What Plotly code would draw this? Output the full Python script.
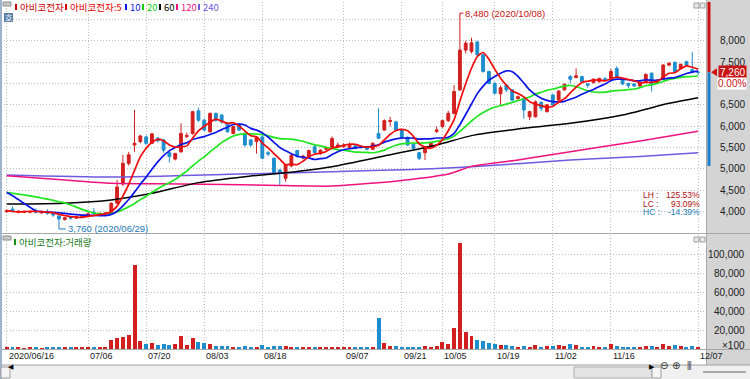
import pandas as pd
import plotly.graph_objects as go

# ---------------- data ----------------
holidays = ['2020-08-17', '2020-09-30', '2020-10-01', '2020-10-02', '2020-10-09']
dates = [d.strftime('%Y/%m/%d') for d in pd.bdate_range('2020-06-16', '2020-12-07')
         if d.strftime('%Y-%m-%d') not in holidays]

opens = [4000, 4060, 3990, 3990, 3985, 4020, 3975, 4000, 3960, 3900,
         3820, 3880, 3850, 3880, 3910, 3990, 3940, 3950, 3975, 4200,
         4650, 5130, 5560, 5640, 5750, 5600, 5720, 5680, 5380, 5230,
         5400, 5760, 5830, 6360, 6140, 5870, 6300, 6260, 6070, 5830,
         6040, 5830, 5680, 5640, 5750, 5380, 5250, 4975, 4780, 5070,
         5430, 5260, 5290, 5520, 5360, 5460, 5480, 5520, 5520, 5500,
         5540, 5530, 5520, 5460, 5830, 5910, 6110, 6100, 5910, 5740,
         5580, 5380, 5380, 5520, 5880, 5990, 6130, 6300, 6850, 7780,
         7750, 7970, 7670, 7280, 7000, 6760, 6960, 6850, 6650, 6650,
         6220, 6220, 6560, 6340, 6730, 6610, 6850, 7160, 7140, 7160,
         6990, 7020, 7040, 7110, 7120, 7350, 7100, 7000, 6990, 6940,
         7030, 7240, 7020, 7100, 7430, 7490, 7350, 7510, 7320, 7260]
highs = [4040, 4120, 4030, 4030, 4020, 4080, 4010, 4060, 3980, 3920,
         3880, 3900, 3900, 3930, 3980, 4080, 3980, 3990, 4220, 4740,
         5330, 5400, 6380, 5800, 5780, 5850, 5750, 5700, 5400, 5380,
         6070, 5850, 6360, 6430, 6180, 6320, 6320, 6280, 6090, 6010,
         6060, 5870, 5700, 5760, 5780, 5420, 5270, 5000, 5120, 5350,
         5450, 5330, 5450, 5560, 5460, 5530, 5760, 5620, 5600, 5620,
         5560, 5560, 5540, 5620, 6420, 6160, 6220, 6130, 5930, 5760,
         5600, 5400, 5540, 5640, 5990, 6150, 6360, 6960, 8480, 8000,
         8070, 8000, 7700, 7300, 7040, 6950, 6980, 6870, 6720, 6680,
         6360, 6600, 6580, 6520, 6760, 6850, 7000, 7200, 7350, 7180,
         7000, 7120, 7130, 7150, 7340, 7400, 7140, 7020, 7010, 7040,
         7240, 7260, 7100, 7450, 7500, 7520, 7460, 7530, 7740, 7300]
lows = [3980, 3990, 3960, 3970, 3960, 3960, 3950, 3930, 3880, 3760,
        3790, 3810, 3830, 3860, 3900, 3930, 3920, 3920, 3950, 4180,
        4600, 5080, 5400, 5600, 5560, 5580, 5620, 5380, 5150, 5200,
        5380, 5720, 5800, 6100, 5880, 5850, 6100, 6050, 5850, 5810,
        5880, 5520, 5520, 5360, 5230, 5300, 4870, 4624, 4700, 5040,
        5260, 5220, 5260, 5360, 5330, 5430, 5460, 5500, 5490, 5480,
        5460, 5470, 5440, 5440, 5700, 5890, 6000, 5890, 5720, 5540,
        5460, 5210, 5210, 5500, 5840, 5960, 6100, 6280, 6820, 7700,
        7700, 7640, 7250, 6980, 6740, 6500, 6800, 6580, 6620, 6180,
        6145, 6200, 6350, 6320, 6480, 6590, 6830, 7000, 7120, 7020,
        6900, 7000, 7020, 7050, 7100, 7140, 6960, 6890, 6920, 6920,
        7010, 6810, 7000, 7080, 7400, 7260, 7320, 7400, 7240, 7200]
closes = [4020, 4020, 4010, 4000, 4005, 3990, 3995, 3960, 3920, 3830,
          3860, 3850, 3890, 3910, 3950, 3950, 3960, 3970, 4195, 4580,
          5130, 5330, 5600, 5770, 5600, 5820, 5660, 5440, 5290, 5360,
          5830, 5780, 6340, 6140, 5910, 6300, 6140, 6105, 5870, 5990,
          5910, 5560, 5560, 5740, 5250, 5350, 4900, 4900, 5090, 5320,
          5290, 5300, 5430, 5380, 5440, 5500, 5710, 5560, 5560, 5560,
          5480, 5500, 5460, 5600, 5720, 6130, 6130, 5910, 5740, 5560,
          5480, 5250, 5520, 5610, 5910, 6130, 6300, 6810, 7780, 7940,
          7950, 7670, 7280, 7000, 6770, 6900, 6850, 6610, 6690, 6380,
          6340, 6570, 6420, 6500, 6500, 6820, 6980, 7100, 7180, 7040,
          6960, 7100, 7120, 7080, 7280, 7160, 6990, 6950, 6940, 7030,
          7210, 7000, 7080, 7430, 7470, 7280, 7450, 7430, 7260, 7260]
volumes = [1500, 2500, 1200, 1000, 1300, 1800, 900, 1600, 1400, 2500,
           1500, 1200, 1100, 1300, 1500, 1800, 1600, 1800, 9000, 12000,
           13000, 15000, 88000, 8000, 5000, 6000, 4000, 5500, 4500, 5000,
           14000, 4000, 12000, 7000, 6000, 5500, 3500, 3000, 3500, 2500,
           2500, 3000, 2500, 2000, 4000, 2500, 3500, 3000, 3000, 2500,
           2000, 1500, 2000, 1800, 1500, 1500, 2500, 2000, 2000, 1800,
           1500, 1500, 1500, 1800, 32500, 6000, 3500, 3000, 2500, 2500,
           2000, 2500, 3000, 2500, 3500, 7000, 5000, 22000, 112000, 18000,
           14000, 9000, 8000, 6000, 5000, 4500, 4000, 3500, 2500, 3500,
           2500, 4000, 2500, 3000, 3500, 4000, 3500, 5000, 4000, 2500,
           2500, 3000, 2500, 2000, 5500, 3000, 2500, 2500, 2000, 2500,
           3500, 3000, 2000, 5000, 3000, 4000, 3500, 2500, 3500, 1500]
# closes before 2020/06/16 (only used for the short moving averages)
prior_closes = [4380, 4400, 4420, 4450, 4470, 4480, 4500, 4490, 4470, 4470,
                4750, 4900, 4950, 4850, 4870, 4150, 4050, 3980, 3950]

# long moving averages
ma60_dates = ['2020/06/16', '2020/06/30', '2020/07/10', '2020/07/21', '2020/07/31',
              '2020/08/12', '2020/08/24', '2020/09/03', '2020/09/16', '2020/09/29',
              '2020/10/13', '2020/10/23', '2020/11/05', '2020/11/18', '2020/11/30',
              '2020/12/07']
ma60_vals = [4180, 4200, 4273, 4430, 4680, 4819, 4912, 5053, 5303, 5560,
             5780, 5934, 6067, 6262, 6535, 6667]
ma120_dates = ['2020/06/16', '2020/06/30', '2020/07/10', '2020/07/28', '2020/08/19',
               '2020/09/03', '2020/09/21', '2020/10/06', '2020/10/13', '2020/10/23',
               '2020/11/05', '2020/11/23', '2020/12/07']
ma120_vals = [4840, 4740, 4665, 4650, 4620, 4600, 4730, 4880, 5060, 5209,
              5404, 5654, 5880]
ma240_dates = ['2020/06/16', '2020/07/10', '2020/08/11', '2020/09/03', '2020/09/23',
               '2020/10/13', '2020/11/05', '2020/11/23', '2020/12/07']
ma240_vals = [4860, 4810, 4880, 4936, 4990, 5050, 5209, 5290, 5380]

tick_dates = ['2020/06/16', '2020/07/06', '2020/07/20', '2020/08/03', '2020/08/18',
              '2020/09/07', '2020/09/21', '2020/10/05', '2020/10/19', '2020/11/02',
              '2020/11/16', '2020/12/07']
price_ticks = [4000, 4500, 5000, 5500, 6000, 6500, 7500, 8000]
price_grid = [3500, 4000, 4500, 5000, 5500, 6000, 6500, 7000, 7500, 8000, 8500]
vol_ticks = [20000, 40000, 60000, 80000, 100000]
name = '아비코전자'

# ---------------- derived ----------------
allc = pd.Series(prior_closes + closes)
ma5 = allc.rolling(5).mean().tolist()[len(prior_closes):]
ma10 = allc.rolling(10).mean().tolist()[len(prior_closes):]
ma20 = allc.rolling(20).mean().tolist()[len(prior_closes):]

RED = '#d21f1f'
BLUE = '#1e8dcd'
vol_colors = [RED if c >= o else BLUE for o, c in zip(opens, closes)]

W, H = 750, 379
L, R, T, B = 4, 44, 2, 30
PW, PH = W - L - R, H - T - B


def fx(px):
    return (px - L) / PW


def fy(py):
    return (H - B - py) / PH


fig = go.Figure()
fig.add_trace(go.Candlestick(
    x=dates, open=opens, high=highs, low=lows, close=closes,
    increasing=dict(line=dict(color=RED, width=1), fillcolor=RED),
    decreasing=dict(line=dict(color=BLUE, width=1), fillcolor=BLUE),
    whiskerwidth=0, xaxis='x', yaxis='y', hoverinfo='skip', showlegend=False))

for xs, ys, col, w in [(ma240_dates, ma240_vals, '#6e5ae0', 1.5),
                       (ma120_dates, ma120_vals, '#f0127c', 1.5),
                       (ma60_dates, ma60_vals, '#000000', 1.5),
                       (dates, ma20, '#1ee61e', 1.7),
                       (dates, ma10, '#0a14e6', 1.7),
                       (dates, ma5, '#f00a0a', 1.7)]:
    fig.add_trace(go.Scatter(x=xs, y=ys, mode='lines',
                             line=dict(color=col, width=w, shape='spline', smoothing=0.6),
                             xaxis='x', yaxis='y', hoverinfo='skip', showlegend=False))

fig.add_trace(go.Bar(x=dates, y=volumes, marker=dict(color=vol_colors, line=dict(width=0)),
                     width=0.68, xaxis='x2', yaxis='y2', hoverinfo='skip', showlegend=False))

GRID = '#bdbdbd'
K2P = 0.04275          # pixels per won in the price pane
xcommon = dict(type='category', range=[(L - 6.7) / 5.81, (W - R - 6.7) / 5.81],
               tickvals=tick_dates, showticklabels=False, ticks='', showgrid=True,
               gridcolor=GRID, griddash='1px,2px', gridwidth=1, zeroline=False, showline=False,
               fixedrange=True)
ptop = 4000 + (211.7 - 2) / K2P
pbot = 4000 - (233 - 211.7) / K2P
fig.update_layout(
    width=W, height=H, margin=dict(l=L, r=R, t=T, b=B),
    paper_bgcolor='white', plot_bgcolor='white', showlegend=False, bargap=0,
    xaxis=dict(xcommon, anchor='y', domain=[0, 1], rangeslider=dict(visible=False)),
    xaxis2=dict(xcommon, anchor='y2', domain=[0, 1], matches='x'),
    yaxis=dict(domain=[fy(233), 1], range=[pbot, ptop],
               tickvals=price_grid, showticklabels=False, ticks='', showgrid=True, gridcolor=GRID,
               griddash='1px,2px', zeroline=False, showline=False, fixedrange=True),
    yaxis2=dict(domain=[0, fy(235)], range=[0, 120000], tickvals=vol_ticks, showticklabels=False,
                ticks='', showgrid=True, gridcolor=GRID, griddash='1px,2px', zeroline=False,
                showline=False, fixedrange=True),
)

NUMF = 'Liberation Sans, Arial'
KRF = 'Noto Sans CJK KR'
TXT = '#202020'
shapes = []
ann = []

# right gray axis panel
shapes.append(dict(type='rect', xref='paper', yref='paper', x0=fx(706), x1=fx(751), y0=fy(365), y1=fy(-1),
                   fillcolor='#d4d4d4', line=dict(width=0), layer='below'))
# bottom scrollbar strip
shapes.append(dict(type='rect', xref='paper', yref='paper', x0=fx(-1), x1=fx(751), y0=fy(380), y1=fy(365),
                   fillcolor='#f0f0f0', line=dict(width=0)))
shapes.append(dict(type='line', xref='paper', yref='paper', x0=fx(-1), x1=fx(751), y0=fy(365), y1=fy(365),
                   line=dict(color='#a0a0a0', width=1)))
# pane separators
shapes.append(dict(type='line', xref='paper', yref='paper', x0=fx(0), x1=fx(750), y0=fy(233.5), y1=fy(233.5),
                   line=dict(color='#a8a8a8', width=1)))
shapes.append(dict(type='line', xref='paper', yref='paper', x0=fx(0), x1=fx(750), y0=fy(349.5), y1=fy(349.5),
                   line=dict(color='#a8a8a8', width=1)))
shapes.append(dict(type='line', xref='paper', yref='paper', x0=fx(706.5), x1=fx(706.5), y0=fy(365), y1=fy(0),
                   line=dict(color='#a8a8a8', width=1)))
# left frame
shapes.append(dict(type='line', xref='paper', yref='paper', x0=fx(1), x1=fx(1), y0=fy(379), y1=fy(0),
                   line=dict(color='#9fb4cc', width=2)))

# current price bar (red above, blue below)
last = closes[-1]
shapes.append(dict(type='rect', xref='paper', yref='y', x0=fx(707.5), x1=fx(710.5), y0=last,
                   y1=ptop, fillcolor='#d01010', line=dict(width=0)))
shapes.append(dict(type='rect', xref='paper', yref='y', x0=fx(707.5), x1=fx(710.5), y0=5070, y1=last,
                   fillcolor='#1e7fc8', line=dict(width=0)))
# triangle marker
ty = 211.7 - (last - 4000) * K2P
shapes.append(dict(type='path', xref='paper', yref='paper',
                   path=f'M {fx(711)} {fy(ty)} L {fx(717)} {fy(ty - 4)} L {fx(717)} {fy(ty + 4)} Z',
                   fillcolor='#d01010', line=dict(width=0)))

# price labels
for v in price_ticks:
    ann.append(dict(x=fx(747), xref='paper', y=v, yref='y', text=f'{v:,}', showarrow=False,
                    xanchor='right', yanchor='middle', font=dict(family=NUMF, size=10, color=TXT)))
for v in vol_ticks:
    ann.append(dict(x=fx(747), xref='paper', y=v, yref='y2', text=f'{v:,}', showarrow=False,
                    xanchor='right', yanchor='middle', font=dict(family=NUMF, size=10, color=TXT)))
ann.append(dict(x=fx(747), xref='paper', y=fy(345), yref='paper', text='×100', showarrow=False,
                xanchor='right', yanchor='middle', font=dict(family=NUMF, size=10, color=TXT)))
# current price box
ann.append(dict(x=fx(747), xref='paper', y=last, yref='y', text=f'{last:,}', showarrow=False,
                xanchor='right', yanchor='middle', bgcolor='#c81414', borderpad=1,
                font=dict(family=NUMF, size=10, color='white')))
chg = (closes[-1] / closes[-2] - 1) * 100
ann.append(dict(x=fx(747), xref='paper', y=fy(83), yref='paper', text=f'{chg:.2f}%', showarrow=False,
                xanchor='right', yanchor='middle', bgcolor='white', borderpad=0,
                font=dict(family=NUMF, size=10, color='#c81414')))

# date labels
for i, d in enumerate(tick_dates):
    ann.append(dict(x=dates.index(d), xref='x2', y=fy(356), yref='paper', text=d if i == 0 else d[5:],
                    showarrow=False, xanchor='left', yanchor='middle', xshift=0,
                    font=dict(family=NUMF, size=9, color=TXT)))

# high / low markers
hi = max(highs)
hi_i = highs.index(hi)
lo = min(lows)
lo_i = lows.index(lo)
shapes.append(dict(type='path', xref='x', yref='y',
                   path=f'M {hi_i} {hi} L {hi_i} {hi + 7 / K2P} L {hi_i + 0.6} {hi + 7 / K2P}',
                   line=dict(color='#c81414', width=1)))
ann.append(dict(x=hi_i + 0.6, xref='x', y=hi + 7 / K2P, yref='y', text=f'{hi:,} ({dates[hi_i]})',
                showarrow=False, xanchor='left', yanchor='middle',
                font=dict(family=NUMF, size=9.5, color='#c81414')))
shapes.append(dict(type='path', xref='x', yref='y',
                   path=f'M {lo_i} {lo} L {lo_i} {lo - 7 / K2P} L {lo_i + 1.2} {lo - 7 / K2P}',
                   line=dict(color='#2378b4', width=1)))
ann.append(dict(x=lo_i + 1.2, xref='x', y=lo - 7 / K2P, yref='y', text=f'{lo:,} ({dates[lo_i]})',
                showarrow=False, xanchor='left', yanchor='middle',
                font=dict(family=NUMF, size=9.5, color='#2378b4')))

# LH / LC / HC
lh = (hi / lo - 1) * 100
lc = (last / lo - 1) * 100
hc = (last / hi - 1) * 100
for lab, val, py, col in [('LH', lh, 195, '#b01010'), ('LC', lc, 203.5, '#b01010'), ('HC', hc, 212, '#2378b4')]:
    ann.append(dict(x=fx(642), xref='paper', y=fy(py), yref='paper', text=f'{lab} :', showarrow=False,
                    xanchor='left', yanchor='middle', borderpad=0, font=dict(family=NUMF, size=8.5, color=col)))
    ann.append(dict(x=fx(701), xref='paper', y=fy(py), yref='paper', text=f'{val:.2f}%', showarrow=False,
                    xanchor='right', yanchor='middle', borderpad=0, font=dict(family=NUMF, size=8.5, color=col)))

# top legend
legend_items = [(name, '#c80000', 15), (name + ':5', '#e00000', 65), ('10', '#0a14e6', 125),
                ('20', '#10d010', 142), ('60', '#000000', 159), ('120', '#f0127c', 176),
                ('240', '#6e5ae0', 198)]
for txt, col, px in legend_items:
    shapes.append(dict(type='rect', xref='paper', yref='paper', x0=fx(px), x1=fx(px + 2), y0=fy(10), y1=fy(4),
                       fillcolor=col, line=dict(width=0)))
    ann.append(dict(x=fx(px + 3), xref='paper', y=fy(7), yref='paper', text=txt, showarrow=False,
                    xanchor='left', yanchor='middle', font=dict(family=KRF, size=9.5, color=col)))
# volume legend
shapes.append(dict(type='rect', xref='paper', yref='paper', x0=fx(14), x1=fx(16), y0=fy(245), y1=fy(239),
                   fillcolor='#1a8a1a', line=dict(width=0)))
ann.append(dict(x=fx(17), xref='paper', y=fy(242), yref='paper', text=name + ':거래량', showarrow=False,
                xanchor='left', yanchor='middle', font=dict(family=KRF, size=9.5, color='#207a20')))
# small icons
for py in (1, 235):
    shapes.append(dict(type='rect', xref='paper', yref='paper', x0=fx(3), x1=fx(11), y0=fy(py + 5), y1=fy(py + 1),
                       fillcolor='#c8c8c8', line=dict(color='#909090', width=1)))
shapes.append(dict(type='rect', xref='paper', yref='paper', x0=fx(4), x1=fx(13), y0=fy(22), y1=fy(13),
                   fillcolor='#5a7ea8', line=dict(width=0)))
ann.append(dict(x=fx(8.5), xref='paper', y=fy(17.5), yref='paper', text='호', showarrow=False,
                xanchor='center', yanchor='middle', font=dict(family=KRF, size=8, color='white')))
for py in (3, 237):
    for px in (694, 700):
        shapes.append(dict(type='rect', xref='paper', yref='paper', x0=fx(px), x1=fx(px + 5), y0=fy(py + 5),
                           y1=fy(py), fillcolor='#e8e8e8', line=dict(color='#a0a0a0', width=1)))

# scrollbar
shapes.append(dict(type='rect', xref='paper', yref='paper', x0=fx(1), x1=fx(10), y0=fy(378), y1=fy(367),
                   fillcolor='#f4f4f4', line=dict(color='#a0a0a0', width=1)))
ann.append(dict(x=fx(5.5), xref='paper', y=fy(372.5), yref='paper', text='◀', showarrow=False,
                font=dict(size=7, color='#000000')))
shapes.append(dict(type='rect', xref='paper', yref='paper', x0=fx(574), x1=fx(652), y0=fy(378), y1=fy(367),
                   fillcolor='#e4e4e4', line=dict(color='#b0b0b0', width=1)))
shapes.append(dict(type='rect', xref='paper', yref='paper', x0=fx(652), x1=fx(661), y0=fy(378), y1=fy(367),
                   fillcolor='#f4f4f4', line=dict(color='#a0a0a0', width=1)))
ann.append(dict(x=fx(656.5), xref='paper', y=fy(372.5), yref='paper', text='▶', showarrow=False,
                font=dict(size=7, color='#000000')))
for px, t in [(670, '⊖'), (682, '⊕'), (694, '⫼')]:
    ann.append(dict(x=fx(px), xref='paper', y=fy(372.5), yref='paper', text=t, showarrow=False,
                    font=dict(family='DejaVu Sans', size=10, color='#303030')))
shapes.append(dict(type='line', xref='paper', yref='paper', x0=fx(703), x1=fx(746), y0=fy(372), y1=fy(372),
                   line=dict(color='#606060', width=1)))

fig.update_layout(shapes=shapes, annotations=ann)
fig.write_html('out.html', config={'displayModeBar': False},
               post_script="document.body.style.margin='0px';document.body.style.overflow='hidden';")
